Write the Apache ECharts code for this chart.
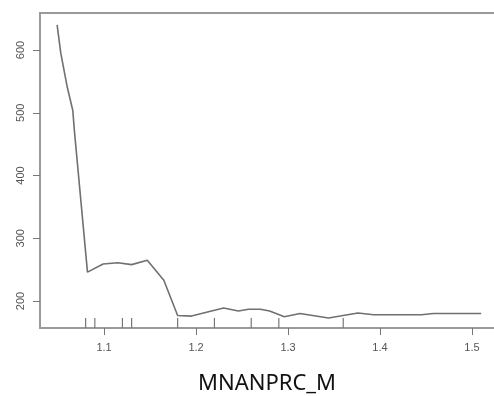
<!DOCTYPE html>
<html>
<head>
<meta charset="utf-8">
<script src="https://cdn.jsdelivr.net/npm/echarts@6/dist/echarts.min.js"></script>
<style>html,body{margin:0;padding:0;background:#fff;}#c{width:494px;height:396px;}</style>
</head>
<body>
<div id="c"></div>
<script>
var xValues = [1.049, 1.053, 1.060, 1.066, 1.068, 1.082, 1.099, 1.115, 1.130, 1.147, 1.165, 1.180, 1.195, 1.230, 1.246, 1.257, 1.270, 1.280, 1.296, 1.313, 1.344, 1.376, 1.393, 1.445, 1.458, 1.510];
var yValues = [640, 595, 541, 504, 468, 246, 259, 261, 258, 265, 233, 177, 176, 189, 184, 187, 187, 184, 175, 180, 173, 181, 178, 178, 180, 180];
var rugValues = [1.08, 1.09, 1.12, 1.13, 1.18, 1.22, 1.26, 1.29, 1.36];
var xTicks = [1.1, 1.2, 1.3, 1.4, 1.5];
var yTicks = [200, 300, 400, 500, 600];
var xTitle = 'MNANPRC_M';

var xMin = 1.0304, xMax = 1.5239, yMin = 157, yMax = 659;
var lineData = xValues.map(function(x, i){ return [x, yValues[i]]; });
var rugData = rugValues.map(function(x){ return [x, yMin]; });

var chart = echarts.init(document.getElementById('c'));
chart.setOption({
  animation: false,
  backgroundColor: '#fff',
  grid: { left: 40, right: 0, top: 13, bottom: 68, containLabel: false, outerBoundsMode: 'none' },
  xAxis: [{
    type: 'value', min: xMin, max: xMax, position: 'bottom',
    axisLine: { show: true, onZero: false, lineStyle: { color: '#9a9a9a', width: 2 } },
    axisTick: { show: true, length: 7, customValues: xTicks, lineStyle: { color: '#777', width: 1 } },
    axisLabel: { customValues: xTicks, color: '#555', fontSize: 11, fontFamily: 'Liberation Sans, Arial, sans-serif', margin: 14,
      formatter: function(v){ return String(Math.round(v*10)/10); } },
    splitLine: { show: false },
    name: xTitle, nameLocation: 'middle', nameGap: 45,
    nameTextStyle: { color: '#111', fontSize: 22, fontFamily: 'Noto Sans, sans-serif' }
  }, {
    type: 'value', min: xMin, max: xMax, position: 'top',
    axisLine: { show: true, onZero: false, lineStyle: { color: '#9a9a9a', width: 2 } },
    axisTick: { show: false }, axisLabel: { show: false }, splitLine: { show: false }
  }],
  yAxis: {
    type: 'value', min: yMin, max: yMax,
    axisLine: { show: true, onZero: false, lineStyle: { color: '#9a9a9a', width: 2 } },
    axisTick: { show: true, length: 7, customValues: yTicks, lineStyle: { color: '#777', width: 1 } },
    axisLabel: { customValues: yTicks, rotate: 90, color: '#555', fontSize: 11, fontFamily: 'Liberation Sans, Arial, sans-serif', margin: 14 },
    splitLine: { show: false }
  },
  series: [{
    type: 'line', data: lineData, showSymbol: false, symbol: 'none',
    lineStyle: { color: '#707070', width: 1.6 }, silent: true
  }, {
    type: 'custom', data: rugData, silent: true,
    renderItem: function(params, api){
      var p = api.coord([api.value(0), api.value(1)]);
      return { type: 'line', shape: { x1: p[0], y1: p[1], x2: p[0], y2: p[1] - 10 },
        style: { stroke: '#777', lineWidth: 1.2 } };
    }
  }]
});
</script>
</body>
</html>
